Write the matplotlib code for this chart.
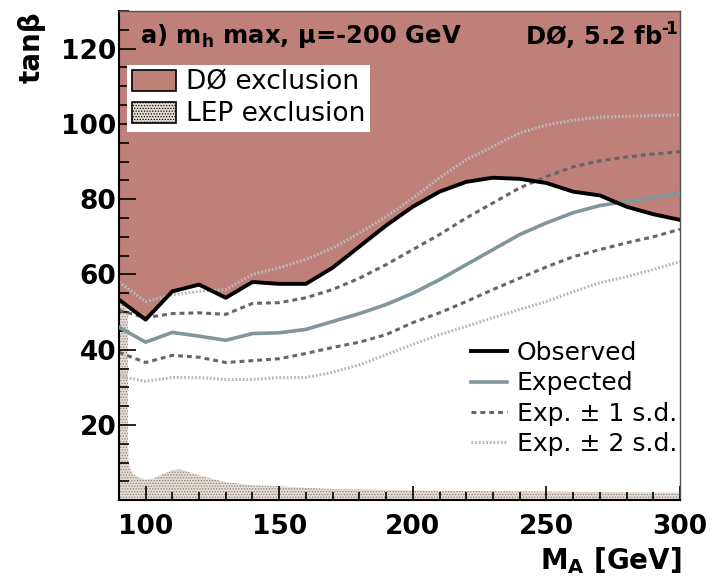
import numpy as np
import matplotlib
matplotlib.use("Agg")
import matplotlib.pyplot as plt
from matplotlib.patches import Patch
from matplotlib.lines import Line2D

plt.rcParams["font.family"] = ["DejaVu Sans"]
plt.rcParams["mathtext.fontset"] = "custom"
plt.rcParams["mathtext.rm"] = "DejaVu Sans:bold"
plt.rcParams["mathtext.it"] = "DejaVu Sans:bold"
plt.rcParams["mathtext.bf"] = "DejaVu Sans:bold"
plt.rcParams["hatch.linewidth"] = 0.6

# --- data ---
mass = [90, 100, 110, 120, 130, 140, 150, 160, 170, 180, 190,
        200, 210, 220, 230, 240, 250, 260, 270, 280, 290, 300]
observed = [53.3, 48.0, 55.5, 57.3, 53.8, 58.0, 57.5, 57.5, 61.8, 67.4, 73.0,
            78.0, 82.0, 84.6, 85.7, 85.4, 84.3, 82.0, 81.0, 78.0, 76.0, 74.5]
expected = [46.0, 42.0, 44.6, 43.6, 42.5, 44.3, 44.5, 45.4, 47.5, 49.6, 52.0,
            55.0, 58.6, 62.6, 66.6, 70.6, 73.7, 76.4, 78.3, 79.4, 80.4, 81.7]
exp_p1 = [50.5, 48.5, 49.6, 49.8, 49.4, 52.3, 52.5, 53.8, 56.0, 59.0, 62.6,
          66.6, 70.6, 75.0, 79.0, 83.0, 86.0, 88.6, 90.2, 91.2, 92.0, 92.6]
exp_m1 = [39.3, 36.6, 38.5, 38.0, 36.6, 37.1, 37.6, 39.0, 40.6, 42.0, 44.0,
          47.2, 49.8, 52.8, 56.0, 59.0, 62.0, 64.7, 66.6, 68.4, 70.0, 72.0]
exp_p2 = [58.0, 52.8, 54.6, 55.5, 56.0, 60.0, 61.8, 64.0, 67.0, 71.0, 75.3,
          80.3, 85.7, 90.5, 94.0, 97.6, 99.7, 101.0, 101.8, 102.0, 102.2, 102.4]
exp_m2 = [33.0, 31.6, 32.6, 32.6, 32.1, 32.1, 32.6, 32.6, 34.0, 36.0, 38.7,
          41.4, 44.0, 46.2, 48.5, 50.7, 52.8, 55.4, 57.8, 59.4, 61.3, 63.4]

lep_mass = [90, 92, 93.4, 93.4, 93.6, 95, 97.5, 100, 103, 106, 110, 113,
            120, 130, 140, 150, 160, 170, 180, 200, 250, 300]
lep_tanb = [53.0, 52.0, 50.0, 15.0, 10.0, 7.2, 6.0, 5.5, 5.8, 6.8, 8.0, 8.2,
            6.6, 4.8, 4.0, 3.7, 3.3, 3.0, 2.9, 2.6, 2.3, 2.0]

d0_color = "#be8078"
exp_color = "#7f979c"
lep_face = "#e4ddd6"

fig = plt.figure(figsize=(7.12, 5.79), dpi=100)
ax = fig.add_axes([0.167, 0.136, 0.788, 0.845])

# exclusion regions
ax.fill_between(mass, observed, 130, color=d0_color, lw=0, zorder=0.5)
ax.fill_between(lep_mass, 0, lep_tanb, facecolor=lep_face, edgecolor="#8a8078",
                hatch="......", lw=0, zorder=0.6)

# limit curves
dot2 = (0, (0.6, 0.6))
dash1 = (0, (1.6, 1.3))
ax.plot(mass, exp_p2, color="#b9b9b9", lw=2.2, ls=dot2, dash_capstyle="butt", zorder=2)
ax.plot(mass, exp_m2, color="#b9b9b9", lw=2.2, ls=dot2, dash_capstyle="butt", zorder=2)
ax.plot(mass, exp_p1, color="#666666", lw=2.2, ls=dash1, dash_capstyle="butt", zorder=2)
ax.plot(mass, exp_m1, color="#666666", lw=2.2, ls=dash1, dash_capstyle="butt", zorder=2)
ax.plot(mass, expected, color=exp_color, lw=2.6, zorder=3)
ax.plot(mass, observed, color="black", lw=2.8, zorder=4)

ax.set_xlim(90, 300)
ax.set_ylim(0, 130)
ax.set_xticks([100, 150, 200, 250, 300])
ax.set_xticks(np.arange(90, 301, 10), minor=True)
ax.set_yticks([20, 40, 60, 80, 100, 120])
ax.set_yticks(np.arange(0, 131, 5), minor=True)
ax.tick_params(which="both", direction="in", top=False, right=False,
               labelsize=19, width=1.2, color="black")
ax.tick_params(axis="y", which="major", length=12, pad=2)
ax.tick_params(axis="y", which="minor", length=7)
ax.tick_params(axis="x", which="major", length=10, pad=10)
ax.tick_params(axis="x", which="minor", length=6)
for lab in ax.get_xticklabels() + ax.get_yticklabels():
    lab.set_fontweight("bold")

for s in ["left", "bottom"]:
    ax.spines[s].set_linewidth(1.5)
for s in ["top", "right"]:
    ax.spines[s].set_linewidth(1.0)
    ax.spines[s].set_color("#555555")

# labels
fig.text(0.044, 0.98, "tanβ", rotation=90, ha="center", va="top",
         fontsize=20, fontweight="bold")
fig.text(0.957, 0.031, "M$_\\mathrm{A}$ [GeV]", ha="right", va="center",
         fontsize=20, fontweight="bold")
ax.text(0.037, 0.948, "a) m$_\\mathrm{h}$ max, μ=-200 GeV", transform=ax.transAxes,
        ha="left", va="center", fontsize=17.5, fontweight="bold")
ax.text(0.997, 0.948, "DØ, 5.2 fb$^{\u2010\\!1}$", transform=ax.transAxes,
        ha="right", va="center", fontsize=17.5, fontweight="bold")

# legends
h1 = [Patch(facecolor=d0_color, edgecolor="black", lw=1.2, label="DØ exclusion"),
      Patch(facecolor=lep_face, edgecolor="black", hatch="......", lw=1.2,
            label="LEP exclusion")]
leg1 = ax.legend(handles=h1, loc="upper left", bbox_to_anchor=(0.014, 0.89),
                 fontsize=19, frameon=True, fancybox=False, framealpha=1,
                 edgecolor="white", handlelength=1.7, handleheight=0.87,
                 handletextpad=0.35, labelspacing=0.22, borderpad=0.18,
                 borderaxespad=0)
leg1.get_frame().set_linewidth(0)
ax.add_artist(leg1)

h2 = [Line2D([], [], color="black", lw=2.8, label="Observed"),
      Line2D([], [], color=exp_color, lw=2.6, label="Expected"),
      Line2D([], [], color="#666666", lw=2.2, ls=dash1, dash_capstyle="butt",
             label="Exp. ± 1 s.d."),
      Line2D([], [], color="#b9b9b9", lw=2.2, ls=dot2, dash_capstyle="butt",
             label="Exp. ± 2 s.d.")]
ax.legend(handles=h2, loc="upper left", bbox_to_anchor=(0.628, 0.325),
          fontsize=18, frameon=False, handlelength=1.45, handletextpad=0.38,
          labelspacing=0.25, borderaxespad=0, borderpad=0)

fig.savefig("out.png", dpi=100)
